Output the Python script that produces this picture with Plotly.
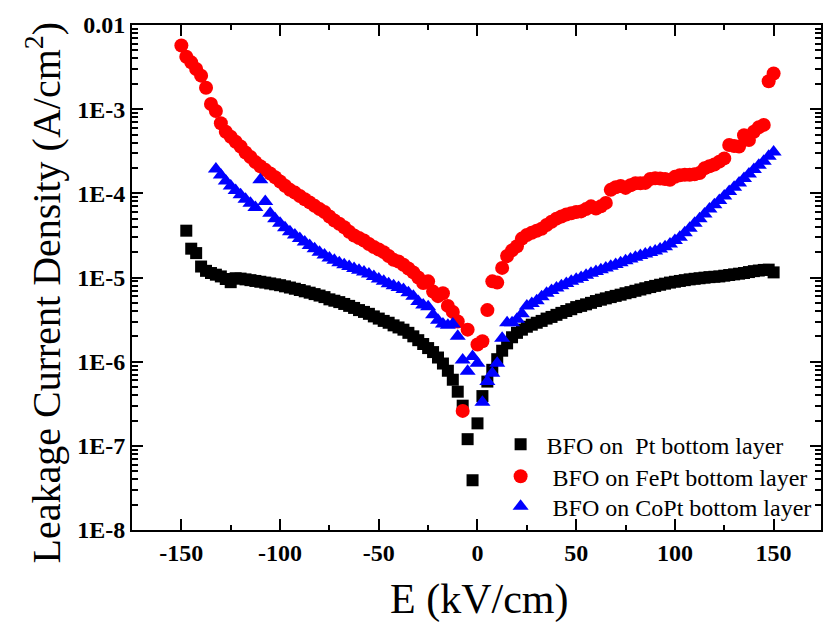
import plotly.graph_objects as go

# ---------------- data ----------------
pt_x = [-147.5, -145, -142.5, -140, -137.5, -135, -132.5, -130, -127.5, -125,
        -122.5, -120, -117.5, -115, -112.5, -110, -107.5, -105, -102.5, -100,
        -97.5, -95, -92.5, -90, -87.5, -85, -82.5, -80, -77.5, -75,
        -72.5, -70, -67.5, -65, -62.5, -60, -57.5, -55, -52.5, -50,
        -47.5, -45, -42.5, -40, -37.5, -35, -32.5, -30, -27.5, -25,
        -22.5, -20, -17.5, -15, -12.5, -10, -7.5, -5, -2.5, 0,
        2.5, 5, 7.5, 10, 12.5, 15, 17.5, 20, 22.5, 25,
        27.5, 30, 32.5, 35, 37.5, 40, 42.5, 45, 47.5, 50,
        52.5, 55, 57.5, 60, 62.5, 65, 67.5, 70, 72.5, 75,
        77.5, 80, 82.5, 85, 87.5, 90, 92.5, 95, 97.5, 100,
        102.5, 105, 107.5, 110, 112.5, 115, 117.5, 120, 122.5, 125,
        127.5, 130, 132.5, 135, 137.5, 140, 142.5, 145, 147.5, 150]
pt_y = [3.6e-5, 2.2e-5, 1.95e-5, 1.35e-5, 1.2e-5, 1.13e-5, 1.08e-5, 1.03e-5, 9.6e-6, 8.8e-6,
        9.8e-6, 9.7e-6, 9.5e-6, 9.3e-6, 9.1e-6, 8.9e-6, 8.7e-6, 8.5e-6, 8.3e-6, 8.1e-6,
        7.85e-6, 7.6e-6, 7.35e-6, 7.1e-6, 6.85e-6, 6.6e-6, 6.35e-6, 6.1e-6, 5.85e-6, 5.5e-6,
        5.3e-6, 5.1e-6, 4.85e-6, 4.6e-6, 4.35e-6, 4.1e-6, 3.9e-6, 3.7e-6, 3.45e-6, 3.25e-6,
        3.05e-6, 2.9e-6, 2.7e-6, 2.55e-6, 2.4e-6, 2.2e-6, 2.0e-6, 1.8e-6, 1.62e-6, 1.45e-6,
        1.3e-6, 1.12e-6, 9.5e-7, 7.8e-7, 6.1e-7, 4.4e-7, 3.0e-7, 1.2e-7, 3.9e-8, 1.85e-7,
        3.9e-7, 5.8e-7, 8.0e-7, 1.07e-6, 1.35e-6, 1.65e-6, 1.95e-6, 2.2e-6, 2.4e-6, 2.6e-6,
        2.75e-6, 2.9e-6, 3.05e-6, 3.25e-6, 3.4e-6, 3.6e-6, 3.8e-6, 4.0e-6, 4.2e-6, 4.45e-6,
        4.6e-6, 4.8e-6, 5.0e-6, 5.25e-6, 5.45e-6, 5.65e-6, 5.85e-6, 6.05e-6, 6.25e-6, 6.5e-6,
        6.7e-6, 6.95e-6, 7.2e-6, 7.45e-6, 7.7e-6, 7.95e-6, 8.2e-6, 8.45e-6, 8.7e-6, 8.9e-6,
        9.1e-6, 9.3e-6, 9.5e-6, 9.65e-6, 9.8e-6, 9.95e-6, 1.01e-5, 1.02e-5, 1.03e-5, 1.05e-5,
        1.07e-5, 1.09e-5, 1.11e-5, 1.13e-5, 1.16e-5, 1.19e-5, 1.21e-5, 1.23e-5, 1.24e-5, 1.15e-5]

fept_x = [-150, -147.5, -145, -142.5, -140, -137.5, -135, -132.5, -130, -127.5,
          -125, -122.5, -120, -117.5, -115, -112.5, -110, -107.5, -105, -102.5,
          -100, -97.5, -95, -92.5, -90, -87.5, -85, -82.5, -80, -77.5,
          -75, -72.5, -70, -67.5, -65, -62.5, -60, -57.5, -55, -52.5,
          -50, -47.5, -45, -42.5, -40, -37.5, -35, -32.5, -30, -27.5,
          -25, -22.5, -20, -17.5, -15, -12.5, -10, -7.5, -5, 0,
          2.5, 5, 7.5, 10, 12.5, 15, 17.5, 20, 22.5, 25,
          27.5, 30, 32.5, 35, 37.5, 40, 42.5, 45, 47.5, 50,
          52.5, 55, 57.5, 60, 62.5, 65, 67.5, 70, 72.5, 75,
          77.5, 80, 82.5, 85, 87.5, 90, 92.5, 95, 97.5, 100,
          102.5, 105, 107.5, 110, 112.5, 115, 117.5, 120, 122.5, 125,
          127.5, 130, 132.5, 135, 137.5, 140, 142.5, 145, 147.5, 150]
fept_y = [5.7e-3, 4.2e-3, 3.6e-3, 3.0e-3, 2.5e-3, 1.8e-3, 1.15e-3, 9.5e-4, 6.8e-4, 5.4e-4,
          4.7e-4, 4.1e-4, 3.6e-4, 3.05e-4, 2.7e-4, 2.35e-4, 2.1e-4, 1.9e-4, 1.72e-4, 1.55e-4,
          1.38e-4, 1.23e-4, 1.1e-4, 1.02e-4, 9.3e-5, 8.5e-5, 7.8e-5, 7.1e-5, 6.5e-5, 6.0e-5,
          5.3e-5, 4.75e-5, 4.35e-5, 3.95e-5, 3.5e-5, 3.15e-5, 2.95e-5, 2.75e-5, 2.5e-5, 2.3e-5,
          2.15e-5, 2.0e-5, 1.8e-5, 1.62e-5, 1.55e-5, 1.42e-5, 1.28e-5, 1.15e-5, 1.0e-5, 8.6e-6,
          9.0e-6, 6.8e-6, 6.0e-6, 6.5e-6, 4.6e-6, 3.9e-6, 3.0e-6, 2.6e-7, 2.4e-6, 1.6e-6,
          1.75e-6, 4.1e-6, 9.0e-6, 8.7e-6, 1.3e-5, 1.8e-5, 2.1e-5, 2.35e-5, 2.9e-5, 3.2e-5,
          3.4e-5, 3.6e-5, 3.8e-5, 4.2e-5, 4.6e-5, 5.0e-5, 5.3e-5, 5.6e-5, 5.8e-5, 6.0e-5,
          6.1e-5, 6.5e-5, 7.0e-5, 6.6e-5, 7.0e-5, 7.7e-5, 1.1e-4, 1.18e-4, 1.22e-4, 1.16e-4,
          1.25e-4, 1.32e-4, 1.32e-4, 1.33e-4, 1.48e-4, 1.51e-4, 1.5e-4, 1.48e-4, 1.45e-4, 1.57e-4,
          1.64e-4, 1.66e-4, 1.66e-4, 1.68e-4, 1.74e-4, 1.98e-4, 2.1e-4, 2.2e-4, 2.38e-4, 2.6e-4,
          3.75e-4, 3.65e-4, 3.6e-4, 4.9e-4, 4.3e-4, 5.4e-4, 6.1e-4, 6.5e-4, 2.15e-3, 2.65e-3]

copt_x = [-132.5, -130, -127.5, -125, -122.5, -120, -117.5, -115, -112.5, -110,
          -107.5, -105, -102.5, -100, -97.5, -95, -92.5, -90, -87.5, -85,
          -82.5, -80, -77.5, -75, -72.5, -70, -67.5, -65, -62.5, -60,
          -57.5, -55, -52.5, -50, -47.5, -45, -42.5, -40, -37.5, -35,
          -32.5, -30, -27.5, -25, -22.5, -20, -17.5, -15, -12.5, -10,
          -7.5, -5, -2.5, 0,
          2.5, 5, 7.5, 10, 12.5, 15, 17.5, 20, 22.5, 25,
          27.5, 30, 32.5, 35, 37.5, 40, 42.5, 45, 47.5, 50,
          52.5, 55, 57.5, 60, 62.5, 65, 67.5, 70, 72.5, 75,
          77.5, 80, 82.5, 85, 87.5, 90, 92.5, 95, 97.5, 100,
          102.5, 105, 107.5, 110, 112.5, 115, 117.5, 120, 122.5, 125,
          127.5, 130, 132.5, 135, 137.5, 140, 142.5, 145, 147.5, 150]
copt_y = [1.95e-4, 1.65e-4, 1.4e-4, 1.22e-4, 1.08e-4, 9.6e-5, 8.5e-5, 7.6e-5, 6.8e-5, 1.45e-4,
          8.0e-5, 5.8e-5, 5.0e-5, 4.4e-5, 3.9e-5, 3.5e-5, 3.2e-5, 2.9e-5, 2.65e-5, 2.4e-5,
          2.2e-5, 2.0e-5, 1.85e-5, 1.7e-5, 1.6e-5, 1.5e-5, 1.42e-5, 1.35e-5, 1.28e-5, 1.22e-5,
          1.16e-5, 1.1e-5, 1.03e-5, 9.6e-6, 9.0e-6, 8.4e-6, 8.0e-6, 7.6e-6, 7.2e-6, 6.6e-6,
          6.0e-6, 5.2e-6, 4.7e-6, 4.5e-6, 3.6e-6, 3.1e-6, 2.8e-6, 2.7e-6, 2.8e-6, 2.0e-6,
          1.05e-6, 7.7e-7, 1.15e-6, 9.6e-7,
          3.3e-7, 5.8e-7, 7.3e-7, 9.6e-7, 1.9e-6, 2.9e-6, 2.9e-6, 3.2e-6, 3.7e-6, 4.6e-6,
          4.9e-6, 5.3e-6, 5.9e-6, 6.5e-6, 7.0e-6, 7.5e-6, 8.0e-6, 8.5e-6, 9.0e-6, 9.5e-6,
          1.0e-5, 1.06e-5, 1.12e-5, 1.18e-5, 1.24e-5, 1.3e-5, 1.36e-5, 1.43e-5, 1.5e-5, 1.58e-5,
          1.66e-5, 1.74e-5, 1.82e-5, 1.9e-5, 1.98e-5, 2.07e-5, 2.18e-5, 2.32e-5, 2.5e-5, 2.75e-5,
          3.0e-5, 3.4e-5, 3.85e-5, 4.4e-5, 5.0e-5, 5.7e-5, 6.5e-5, 7.3e-5, 8.2e-5, 9.3e-5,
          1.05e-4, 1.18e-4, 1.33e-4, 1.5e-4, 1.7e-4, 1.92e-4, 2.15e-4, 2.4e-4, 2.75e-4, 3.1e-4]

series_names = ["\u00a0BFO on\u00a0\u00a0Pt bottom layer",
                "\u00a0\u00a0BFO on FePt bottom layer",
                "\u00a0\u00a0BFO on CoPt bottom layer"]

x_ticks = [-150, -100, -50, 0, 50, 100, 150]
x_ticktext = ["-150", "-100", "-50", "0", "50", "100", "150"]
y_ticks = [1e-8, 1e-7, 1e-6, 1e-5, 1e-4, 1e-3, 1e-2]
y_ticktext = ["1E-8", "1E-7", "1E-6", "1E-5", "1E-4", "1E-3", "0.01"]
y_minor = [m * 10.0 ** e for e in range(-8, -2) for m in range(2, 10)]

FONT = "Liberation Serif"

fig = go.Figure()
fig.add_trace(go.Scatter(x=pt_x, y=pt_y, mode="markers", name=series_names[0], legend="legend",
                         marker=dict(symbol="square", size=12, color="#000000")))
fig.add_trace(go.Scatter(x=fept_x, y=fept_y, mode="markers", name=series_names[1], legend="legend2",
                         marker=dict(symbol="circle", size=14, color="#ff0000")))
fig.add_trace(go.Scatter(x=copt_x, y=copt_y, mode="markers", name=series_names[2], legend="legend3",
                         marker=dict(symbol="triangle-up", size=14, color="#0000ff")))

axis_common = dict(showline=True, linecolor="black", linewidth=2, mirror="allticks",
                   ticks="inside", ticklen=11, tickwidth=2, tickcolor="black",
                   showgrid=False, zeroline=False,
                   tickfont=dict(family=FONT, size=24, color="black", weight="bold"))

fig.update_xaxes(range=[-175, 174], tickmode="array", tickvals=x_ticks, ticktext=x_ticktext,
                 minor=dict(ticks="inside", ticklen=5, tickwidth=1.5, tickcolor="black",
                            tickmode="array", tickvals=[-175, -125, -75, -25, 25, 75, 125]),
                 **axis_common)
fig.update_yaxes(type="log", range=[-8, -2], tickmode="array", tickvals=y_ticks, ticktext=y_ticktext,
                 minor=dict(ticks="inside", ticklen=6, tickwidth=1.5, tickcolor="black",
                            tickmode="array", tickvals=y_minor),
                 **axis_common)

fig.add_annotation(text="Leakage Current Density (A/cm<sup>2</sup>)", textangle=-90,
                   xref="paper", yref="paper", x=-0.128, y=0.47, showarrow=False,
                   xanchor="center", yanchor="middle",
                   font=dict(family=FONT, size=40, color="black"))
fig.add_annotation(text="E (kV/cm)", xref="paper", yref="paper", x=0.504, y=-0.138,
                   showarrow=False, xanchor="center", yanchor="middle",
                   font=dict(family=FONT, size=42, color="black"))

legend_style = dict(xanchor="left", yanchor="middle", bgcolor="rgba(0,0,0,0)", borderwidth=0,
                    font=dict(family=FONT, size=24, color="black"))

fig.update_layout(
    width=826, height=623,
    margin=dict(l=132, r=3, t=25, b=93),
    paper_bgcolor="white", plot_bgcolor="white",
    showlegend=True,
    legend=dict(x=0.535, y=0.169, **legend_style),
    legend2=dict(x=0.535, y=0.1055, **legend_style),
    legend3=dict(x=0.535, y=0.046, **legend_style),
)

fig.write_html("out.html")
